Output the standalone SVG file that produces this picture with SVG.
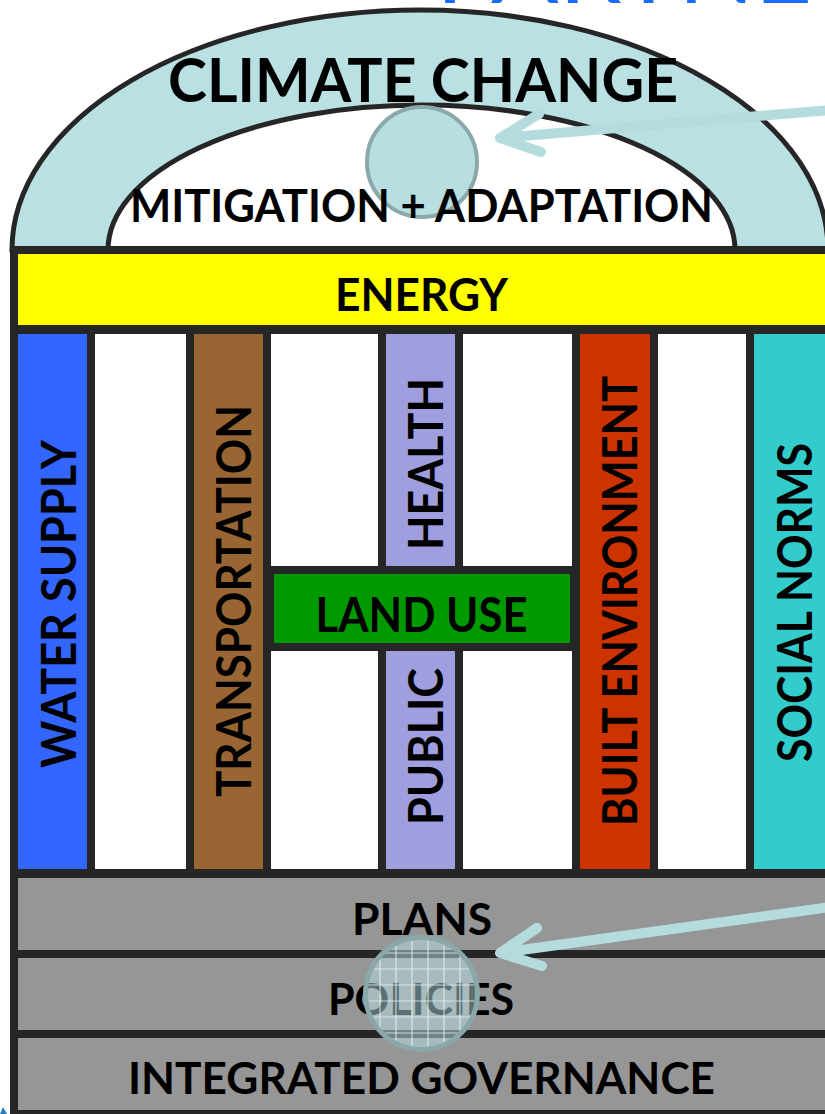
<svg xmlns="http://www.w3.org/2000/svg" width="825" height="1114" viewBox="0 0 825 1114">
  <style>
    .lbl { font-family: Lato, "Liberation Sans", sans-serif; font-weight: bold; fill: #000; text-anchor: middle; }
    .dark { fill: #262626; }
    .white { fill: #ffffff; }
    .gray { fill: #969696; }
    .arrow { fill: none; stroke: #b4dcdf; stroke-width: 10; stroke-linecap: round; stroke-linejoin: round; }
  </style>
  <defs>
    <clipPath id="lensClip">
      <circle cx="421.5" cy="993.5" r="56"/>
    </clipPath>
  </defs>
  <rect width="825" height="1114" fill="#ffffff"/>

  <!-- partial title at top edge -->
  <text x="436" y="3" font-family="Lato, 'Liberation Sans', sans-serif" font-size="100" fill="#1a6cff">PARTNE</text>

  <!-- arch: climate change + mitigation/adaptation -->
  <g id="climate-change">
    <path d="M12,250 A408,240 0 0 1 828,250 Z" fill="#b9e0e3" stroke="#262626" stroke-width="5"/>
  </g>
  <g id="mitigation-adaptation">
    <path d="M108,250 A313.5,145 0 0 1 735,250 Z" fill="#ffffff" stroke="#262626" stroke-width="5"/>
  </g>
  <g id="lens-top">
    <circle cx="422" cy="162" r="55" fill="#b7dfe2" stroke="#8ba8aa" stroke-width="4"/>
  </g>
  <text class="lbl" x="423" y="102" font-size="61" textLength="510" lengthAdjust="spacingAndGlyphs">CLIMATE CHANGE</text>
  <text class="lbl" x="421.5" y="222" font-size="45" textLength="583" lengthAdjust="spacingAndGlyphs">MITIGATION + ADAPTATION</text>

  <!-- frame -->
  <rect class="dark" x="10" y="246" width="830" height="880"/>

  <g id="energy">
    <rect x="18" y="254" width="820" height="71" fill="#ffff00"/>
    <text class="lbl" x="421.5" y="311" font-size="46" textLength="173" lengthAdjust="spacingAndGlyphs">ENERGY</text>
  </g>

  <!-- white spacer columns -->
  <g id="spacers">
    <rect class="white" x="95" y="334" width="91" height="535"/>
    <rect class="white" x="271" y="334" width="107" height="232"/>
    <rect class="white" x="271" y="651" width="107" height="218"/>
    <rect class="white" x="463" y="334" width="109" height="232"/>
    <rect class="white" x="463" y="651" width="109" height="218"/>
    <rect class="white" x="658" y="334" width="88" height="535"/>
  </g>

  <g id="water-supply">
    <rect x="18" y="334" width="69" height="535" fill="#3366ff"/>
    <text class="lbl" transform="translate(76,604) rotate(-90)" font-size="48" textLength="328" lengthAdjust="spacingAndGlyphs">WATER SUPPLY</text>
  </g>
  <g id="transportation">
    <rect x="194" y="334" width="69" height="535" fill="#996633"/>
    <text class="lbl" transform="translate(251,601) rotate(-90)" font-size="48" textLength="392" lengthAdjust="spacingAndGlyphs">TRANSPORTATION</text>
  </g>
  <g id="health">
    <rect x="386" y="334" width="69" height="232" fill="#9f9fdf"/>
    <text class="lbl" transform="translate(443,464) rotate(-90)" font-size="48" textLength="172" lengthAdjust="spacingAndGlyphs">HEALTH</text>
  </g>
  <g id="public">
    <rect x="386" y="651" width="69" height="218" fill="#9f9fdf"/>
    <text class="lbl" transform="translate(443,746.5) rotate(-90)" font-size="48" textLength="157" lengthAdjust="spacingAndGlyphs">PUBLIC</text>
  </g>
  <g id="land-use">
    <rect x="274" y="574" width="296" height="69" fill="#009900"/>
    <text class="lbl" x="421.5" y="632" font-size="48" textLength="212" lengthAdjust="spacingAndGlyphs">LAND USE</text>
  </g>
  <g id="built-environment">
    <rect x="580" y="334" width="70" height="535" fill="#cc3300"/>
    <text class="lbl" transform="translate(637,601) rotate(-90)" font-size="48" textLength="450" lengthAdjust="spacingAndGlyphs">BUILT ENVIRONMENT</text>
  </g>
  <g id="social-norms">
    <rect x="754" y="334" width="80" height="535" fill="#33cccc"/>
    <text class="lbl" transform="translate(812,602.5) rotate(-90)" font-size="48" textLength="319" lengthAdjust="spacingAndGlyphs">SOCIAL NORMS</text>
  </g>

  <g id="plans">
    <rect class="gray" x="18" y="878" width="820" height="72"/>
    <text class="lbl" x="422" y="935" font-size="44" textLength="140" lengthAdjust="spacingAndGlyphs">PLANS</text>
  </g>
  <g id="policies">
    <rect class="gray" x="18" y="958" width="820" height="72"/>
    <text class="lbl" x="421" y="1015" font-size="44" textLength="186" lengthAdjust="spacingAndGlyphs">POLICIES</text>
  </g>
  <g id="integrated-governance">
    <rect class="gray" x="18" y="1038" width="820" height="72"/>
    <text class="lbl" x="421.5" y="1094" font-size="44" textLength="587" lengthAdjust="spacingAndGlyphs">INTEGRATED GOVERNANCE</text>
  </g>

  <!-- magnifier lens at bottom -->
  <g id="lens-bottom">
    <circle cx="421.5" cy="993.5" r="56" fill="#b8e0e3" fill-opacity="0.5"/>
    <g clip-path="url(#lensClip)" stroke="#e4f6f7" stroke-opacity="0.75" stroke-width="1.2">
      <path d="M364,937V1050M380,937V1050M396,937V1050M412,937V1050M428,937V1050M444,937V1050M460,937V1050M476,937V1050"/>
      <path d="M364,937H480M364,953H480M364,969H480M364,985H480M364,1001H480M364,1017H480M364,1033H480M364,1049H480"/>
    </g>
    <circle cx="421.5" cy="993.5" r="56" fill="none" stroke="#8aa7a9" stroke-width="5"/>
  </g>

  <!-- connectors -->
  <g id="connectors">
    <path class="arrow" d="M830,110 L500,138 M539,114 L500,138 L541,152"/>
    <path class="arrow" d="M830,907 L500,953 M537,928 L500,953 L542,966"/>
  </g>

  <path d="M0,1114 L3,1107 L7,1114 Z" fill="#2a7ab8"/>
</svg>
